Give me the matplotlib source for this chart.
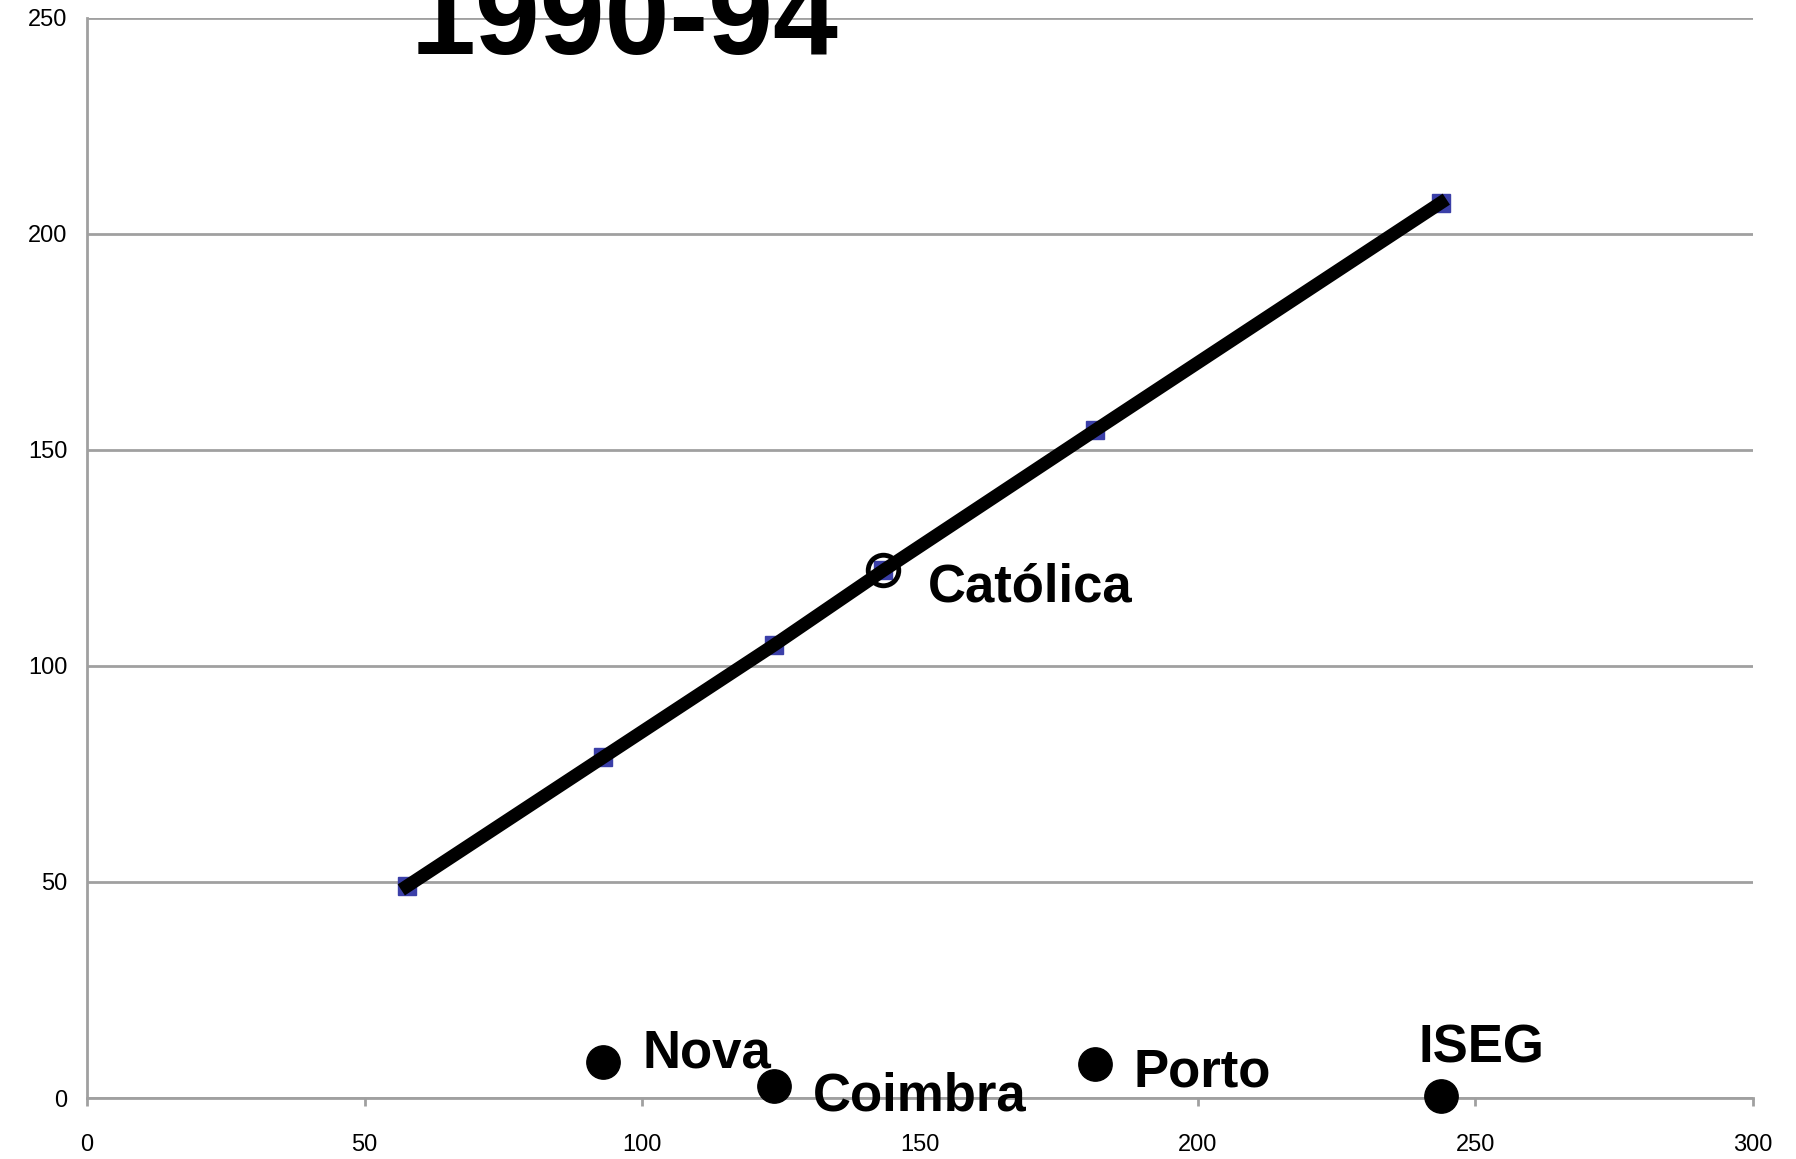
import matplotlib
matplotlib.use('Agg')
import matplotlib.pyplot as plt

# fitted line points (blue squares)
fit_x = [57.6, 93.0, 123.8, 143.4, 181.5, 243.8]
fit_y = [49.0, 78.9, 104.9, 122.1, 154.5, 207.2]

# schools
schools = ['Nova', 'Coimbra', 'Porto', 'ISEG']
school_x = [93.0, 123.8, 181.5, 243.8]
school_y = [8.4, 2.8, 7.9, 0.4]

catolica_x = 143.4
catolica_y = 122.1

x_ticks = [0, 50, 100, 150, 200, 250, 300]
y_ticks = [0, 50, 100, 150, 200, 250]

bold_font = ['Liberation Sans', 'DejaVu Sans']

fig = plt.figure(figsize=(17.96, 11.59), dpi=100)
ax = fig.add_axes([0.0484, 0.0526, 0.9276, 0.932])

ax.plot(fit_x, fit_y, ls='none', marker='s', ms=13,
        mfc='#3b3fa8', mec='#3b3fa8', zorder=3)
ax.plot(fit_x, fit_y, color='black', lw=9.5, zorder=4)
ax.plot([catolica_x], [catolica_y], marker='o', ms=22, mfc='none',
        mec='black', mew=3.5, zorder=5)
ax.plot(school_x, school_y, 'o', color='black', ms=24, zorder=5, clip_on=False)

# labels
ax.text(catolica_x + 8, catolica_y - 4, 'Católica', fontsize=38, fontweight='bold',
        family=bold_font, va='center', ha='left')
offsets = {'Nova': (7, 2), 'Coimbra': (7, -2.5), 'Porto': (7, -2), 'ISEG': (-4, 11)}
for name, x, y in zip(schools, school_x, school_y):
    dx, dy = offsets[name]
    ax.text(x + dx, y + dy, name, fontsize=38, fontweight='bold',
            family=bold_font, va='center', ha='left')

ax.set_xlim(0, 300)
ax.set_ylim(0, 250)
ax.set_xticks(x_ticks)
ax.set_yticks(y_ticks)
ax.set_xticklabels([str(t) for t in x_ticks], family=bold_font, fontsize=17)
ax.set_yticklabels([str(t) for t in y_ticks], family=bold_font, fontsize=17)
ax.yaxis.grid(True, color='#a0a0a0', lw=2)
ax.set_axisbelow(True)
ax.tick_params(axis='y', length=0, pad=14)
ax.tick_params(axis='x', length=6, width=2, color='#a0a0a0', pad=20)
for s in ['top', 'right']:
    ax.spines[s].set_visible(False)
for s in ['left', 'bottom']:
    ax.spines[s].set_color('#a0a0a0')
    ax.spines[s].set_linewidth(2)

fig.text(0.3475, 0.953, '1990-94', fontsize=84, fontweight='bold',
         family=bold_font, ha='center', va='baseline')

fig.savefig('out.png', dpi=100)
